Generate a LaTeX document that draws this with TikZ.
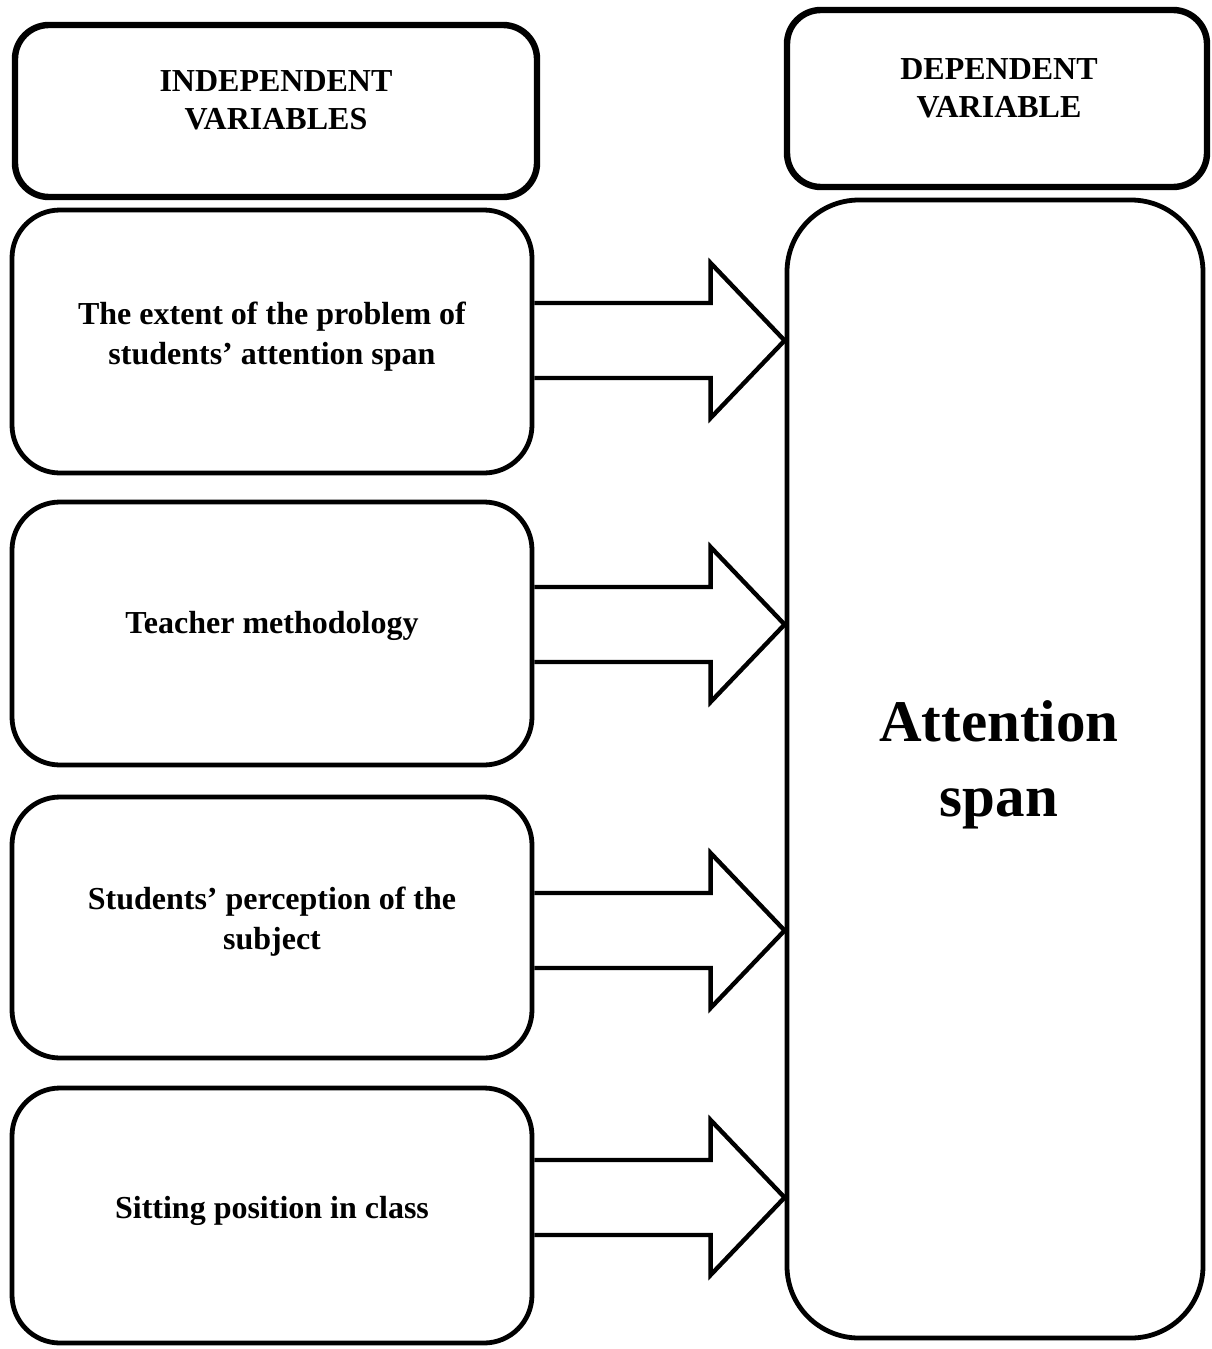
\documentclass[tikz,border=0pt]{standalone}
\usepackage{fontspec}
\setmainfont{Liberation Serif}
\usetikzlibrary{calc}
\begin{document}
\begin{tikzpicture}[x=0.5pt,y=-0.5pt,
  hdrbox/.style={draw, line width=3.2pt, rounded corners=17pt, minimum width=#1},
  varbox/.style={draw, line width=2.4pt, rounded corners=24pt, minimum width=260pt},
  bigbox/.style={draw, line width=2.4pt, rounded corners=36pt, minimum width=208pt, minimum height=569pt},
  txt/.style={font=\bfseries\fontsize{16}{20}\selectfont, align=center},
  hdrtxt/.style={font=\bfseries\fontsize{16}{19}\selectfont, align=center},
  bigtxt/.style={font=\bfseries\fontsize{29.5}{37.5}\selectfont, align=center},
  arr/.style={draw, line width=2.2pt, miter limit=10}]
\useasboundingbox (0,0) rectangle (1211,1349);
% header boxes
\node[hdrbox=261pt, minimum height=86pt] (hl) at (276,111) {};
\node[hdrbox=210pt, minimum height=88.5pt] (hr) at (997,98.5) {};
\node[hdrtxt] (hlt) at ($(hl)+(0,5.5pt)$) {INDEPENDENT\\VARIABLES};
\node[hdrtxt] (hrt) at ($(hr)+(1pt,5pt)$) {DEPENDENT\\VARIABLE};
% variable boxes
\node[varbox, minimum height=131.5pt] (b1) at (272,341.5) {};
\node[varbox, minimum height=131.5pt] (b2) at (272,633.5) {};
\node[varbox, minimum height=130.5pt] (b3) at (272,927.5) {};
\node[varbox, minimum height=127.5pt] (b4) at (272,1215.5) {};
\node[txt] (t1) at ($(b1)+(0,2.25pt)$) {The extent of the problem of\\students’ attention span};
\node[txt] (t2) at ($(b2)+(0,3.75pt)$) {Teacher methodology};
\node[txt] (t3) at ($(b3)+(0,2.75pt)$) {Students’ perception of the\\subject};
\node[txt] (t4) at ($(b4)+(0,2.25pt)$) {Sitting position in class};
% dependent box
\node[bigbox] (big) at (995,769) {};
\node[bigtxt] (bt) at ($(big)+(2pt,2.25pt)$) {Attention\\span};
% block arrows
\foreach \b/\c in {b1/340.5, b2/624.5, b3/930.5, b4/1197.5}{
  \coordinate (tip) at (big.west |- 0,\c);
  \coordinate (base) at (\b.east |- 0,\c);
  \draw[arr] ($(base)+(0,18.75pt)$) -- ($(tip)+(-37pt,18.75pt)$) -- ($(tip)+(-37pt,38.75pt)$)
    -- (tip) -- ($(tip)+(-37pt,-38.75pt)$) -- ($(tip)+(-37pt,-18.75pt)$) -- ($(base)+(0,-18.75pt)$);
}
\end{tikzpicture}
\end{document}
